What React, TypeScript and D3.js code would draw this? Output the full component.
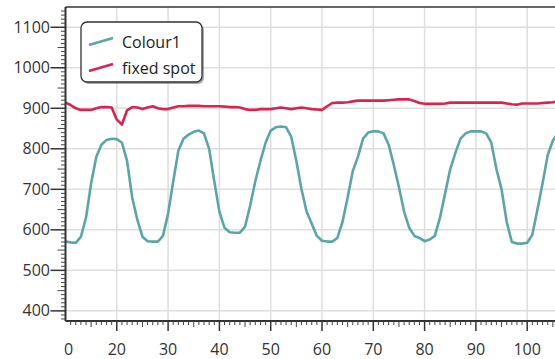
import React from "react";
import * as d3 from "d3";

// x positions of the samples (one per unit)
const xs: number[] = d3.range(10, 107);

// Colour1 readings
const colour1: number[] = [
  571, 569, 568, 583, 630, 715, 780, 810, 822, 825,
  824, 815, 770, 680, 625, 583, 572, 571, 571, 585,
  640, 720, 795, 825, 835, 842, 845, 838, 800, 720,
  645, 605, 594, 593, 593, 608, 660, 720, 770, 815,
  845, 853, 855, 853, 830, 770, 700, 645, 615, 585,
  573, 571, 571, 580, 620, 680, 745, 780, 825, 840,
  843, 843, 838, 810, 760, 705, 645, 605, 585, 580,
  572, 576, 585, 630, 690, 750, 790, 825, 838, 843,
  843, 843, 838, 815, 750, 700, 620, 570, 566, 566,
  568, 588, 650, 715, 785, 820, 840,
];

// fixed spot readings
const fixedSpot: number[] = [
  914, 908, 900, 896, 896, 896, 900, 903, 903, 902,
  872, 860, 895, 903, 902, 898, 902, 905, 900, 898,
  898, 902, 905, 905, 906, 906, 906, 905, 905, 905,
  905, 904, 903, 903, 902, 898, 896, 896, 898, 898,
  898, 900, 902, 900, 898, 900, 902, 900, 898, 897,
  896, 905, 913, 914, 914, 915, 917, 919, 919, 919,
  919, 919, 919, 920, 921, 922, 922, 922, 918, 913,
  911, 911, 911, 911, 912, 914, 914, 914, 914, 914,
  914, 914, 914, 914, 914, 914, 912, 910, 909, 912,
  912, 912, 912, 913, 914, 915, 917,
];

const seriesNames = ["Colour1", "fixed spot"];
const seriesColors = ["#5ba6a4", "#dc2350"];

const yTicks = [400, 500, 600, 700, 800, 900, 1000, 1100];
const xTicks = [10, 20, 30, 40, 50, 60, 70, 80, 90, 100];
const xTickLabels = ["0", "20", "30", "40", "50", "60", "70", "80", "90", "100"];

export default function App() {
  const W = 555;
  const H = 359;
  const left = 65.5;
  const top = 7;
  const bottom = 321;

  const x = d3.scaleLinear().domain([10, 110]).range([left, left + 513]);
  const y = d3.scaleLinear().domain([375, 1150]).range([bottom, top]);

  const line = d3
    .line<number>()
    .x((_, i) => x(xs[i]))
    .y((d) => y(d));

  const yMinor = d3.range(380, 1150, 10).filter((v) => v % 100 !== 0);
  const xMinor = d3.range(10, 110, 1).filter((v) => v % 10 !== 0);

  const font = "'Open Sans', 'Noto Sans', sans-serif";

  return (
    <svg
      width={W}
      height={H}
      style={{ position: "absolute", left: 0, top: 0, background: "#fff" }}
      fontFamily={font}
    >
      {/* GRID */}
      {xTicks.slice(1).map((t) => (
        <line key={"gx" + t} x1={x(t)} x2={x(t)} y1={top} y2={bottom} stroke="#dedede" strokeWidth={1.5} />
      ))}
      {yTicks.map((t) => (
        <line key={"gy" + t} x1={left} x2={W} y1={y(t)} y2={y(t)} stroke="#dedede" strokeWidth={1.5} />
      ))}

      {/* LINES */}
      <path d={line(colour1) || ""} fill="none" stroke={seriesColors[0]} strokeWidth={2.6} strokeLinejoin="round" />
      <path d={line(fixedSpot) || ""} fill="none" stroke={seriesColors[1]} strokeWidth={2.6} strokeLinejoin="round" />

      {/* FRAME */}
      <line x1={left} x2={W} y1={top} y2={top} stroke="#333" strokeWidth={1.5} />
      <line x1={left} x2={left} y1={top} y2={bottom} stroke="#333" strokeWidth={2} />
      <line x1={left} x2={W} y1={bottom} y2={bottom} stroke="#333" strokeWidth={2} />

      {/* Y AXIS */}
      {yMinor.map((t) => (
        <line key={"ym" + t} x1={left - (t % 50 === 0 ? 8 : 4.5)} x2={left} y1={y(t)} y2={y(t)} stroke="#444" strokeWidth={1} />
      ))}
      {yTicks.map((t) => (
        <g key={"yt" + t}>
          <line x1={left - 15} x2={left} y1={y(t)} y2={y(t)} stroke="#333" strokeWidth={1.5} />
          <text x={50} y={y(t)} dy="0.35em" textAnchor="end" fontSize={16} fill="#333">
            {t}
          </text>
        </g>
      ))}

      {/* X AXIS */}
      {xMinor.map((t) => (
        <line key={"xm" + t} x1={x(t)} x2={x(t)} y1={bottom} y2={bottom + (t % 5 === 0 ? 6 : 4)} stroke="#444" strokeWidth={1} />
      ))}
      {xTicks.map((t, i) => (
        <g key={"xt" + t}>
          {i > 0 && <line x1={x(t)} x2={x(t)} y1={bottom} y2={bottom + 10} stroke="#333" strokeWidth={1.5} />}
          <text x={i === 0 ? x(t) + 3 : x(t)} y={349} dy="0.35em" textAnchor="middle" fontSize={16} fill="#333">
            {xTickLabels[i]}
          </text>
        </g>
      ))}

      {/* LEGEND */}
      <rect x={83} y={24} width={121} height={60} rx={6} fill="#555" opacity={0.5} />
      <rect x={81} y={22} width={121} height={60} rx={6} fill="#fff" stroke="#333" strokeWidth={1.3} />
      {seriesNames.map((name, i) => (
        <g key={name} transform={`translate(0,${42 + i * 26})`}>
          <line x1={89} x2={113} y1={3} y2={-4} stroke={seriesColors[i]} strokeWidth={2.6} />
          <text x={122} y={0} dy="0.35em" fontSize={16} fill="#222">
            {name}
          </text>
        </g>
      ))}
    </svg>
  );
}
